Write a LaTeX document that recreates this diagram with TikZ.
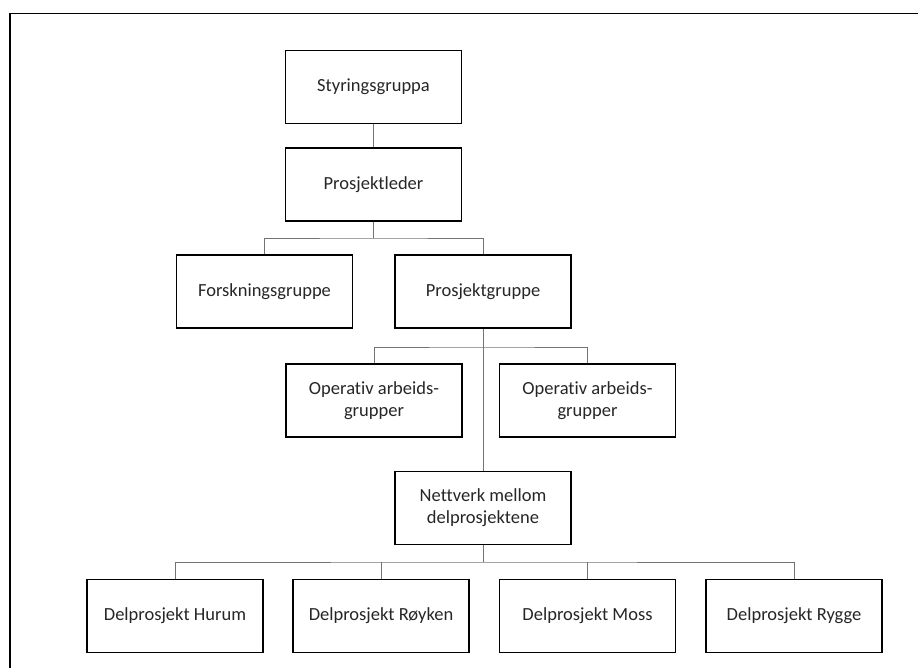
\documentclass[tikz,border=0pt]{standalone}
\usepackage{fontspec}
\setmainfont{Carlito}[Ligatures=NoCommon]
\usepackage{tikz}

\begin{document}
\begin{tikzpicture}[x=1pt, y=-1pt,
        every node/.style={font=\fontsize{18.5}{22}\selectfont, text=black!85},
        unit/.style={draw, line width=1.4pt, minimum width=176pt, minimum height=73pt, align=center, inner sep=2pt},
        link/.style={draw=black!55, line width=0.9pt}]

        \useasboundingbox (0,0) rectangle (918,668);
        % Frame (only top and left edges are visible)
        \draw[line width=1.8pt] (10,668) -- (10,13.5) -- (918,13.5);

        % Top of the organisation
        \node[unit] (styr) at (373.5,87) {Styringsgruppa};
        \node[unit] (leder) at (373.5,184.5) {Prosjektleder};

        % Second level
        \node[unit] (forsk) at (264.5,291.5) {Forskningsgruppe};
        \node[unit] (pgruppe) at (483,291.5) {Prosjektgruppe};

        % Operative groups
        \node[unit] (op1) at (374,400.5) {Operativ arbeids-\\grupper};
        \node[unit] (op2) at (587.5,400.5) {Operativ arbeids-\\grupper};

        % Network between the sub-projects
        \node[unit] (nett) at (483,508) {Nettverk mellom\\delprosjektene};

        % Sub-projects
        \node[unit] (hurum) at (175,616) {Delprosjekt Hurum};
        \node[unit] (royken) at (381,616) {Delprosjekt Røyken};
        \node[unit] (moss) at (587.5,616) {Delprosjekt Moss};
        \node[unit] (rygge) at (794,616) {Delprosjekt Rygge};

        % Bus points for the elbow lines
        \coordinate (bus1) at (373.5,238);
        \coordinate (bus2) at (483,347);
        \coordinate (bus3) at (483,562);

        % Connectors
        \draw[link] (styr) -- (leder);
        \draw[link] (leder) -- (bus1);
        \draw[link] (forsk.north) |- (bus1) -| (pgruppe.north);
        \draw[link] (pgruppe) -- (nett);
        \draw[link] (op1.north) |- (bus2) -| (op2.north);
        \draw[link] (nett) -- (bus3);
        \draw[link] (hurum.north) |- (bus3) -| (rygge.north);
        \draw[link] (royken.north) -- (royken.north |- bus3);
        \draw[link] (moss.north) -- (moss.north |- bus3);

    \end{tikzpicture}
\end{document}
